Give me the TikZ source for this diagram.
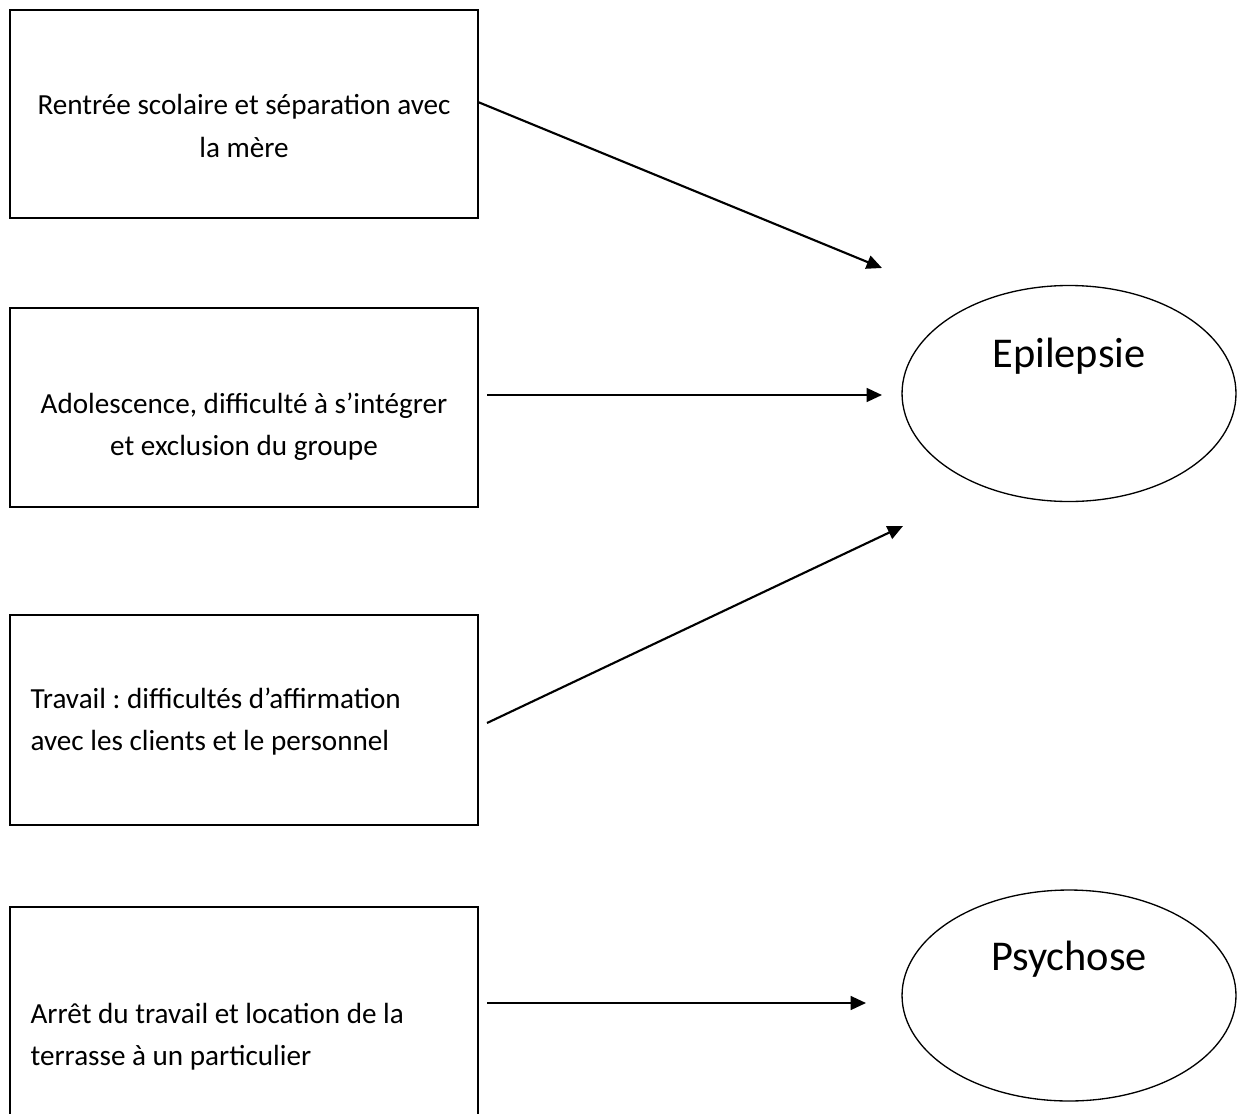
\documentclass[tikz,border=0pt]{standalone}
\usepackage{fontspec}
\setmainfont{Carlito}
\usetikzlibrary{arrows.meta,shapes.geometric,fit}
\frenchspacing
\begin{document}
\begin{tikzpicture}[x=0.3773pt,y=-0.3773pt,
  box/.style={draw, line width=0.7pt, inner sep=0pt},
  oval/.style={draw, ellipse, line width=0.5pt, inner sep=0pt, minimum width=126pt},
  lbl/.style={inner sep=0pt, font=\fontsize{11pt}{15.85pt}\selectfont},
  big/.style={inner sep=0pt, font=\fontsize{16pt}{19pt}\selectfont, anchor=base},
  arr/.style={line width=0.8pt, -{Triangle[length=5.8pt,width=5.2pt]}}]
\useasboundingbox (0,0) rectangle (1239,1113);
\clip (0,0) rectangle (1239,1113);

% boxes
\node[box, fit={(10,10) (478,218)}] (b1) {};
\node[box, fit={(10,308) (478,507)}] (b2) {};
\node[box, fit={(10,615) (478,825)}] (b3) {};
\node[box, fit={(10,907) (478,1130)}] (b4) {};

% box texts
\node[lbl, anchor=base] (t1) at (244,115)
  {\begin{tabular}[t]{@{}c@{}}Rentrée scolaire et séparation avec\\la mère\end{tabular}};
\node[lbl, anchor=base] (t2) at (244,413)
  {\begin{tabular}[t]{@{}c@{}}Adolescence, difficulté à s’intégrer\\et exclusion du groupe\end{tabular}};
\node[lbl, anchor=base west] (t3) at (30,708)
  {\begin{tabular}[t]{@{}l@{}}Travail : difficultés d’affirmation\\avec les clients et le personnel\end{tabular}};
\node[lbl, anchor=base west] (t4) at (30,1023)
  {\begin{tabular}[t]{@{}l@{}}Arrêt du travail et location de la\\terrasse à un particulier\end{tabular}};

% ellipses
\node[oval, minimum height=81.5pt] (e1) at (1069,393.5) {};
\node[oval, minimum height=79.6pt] (e2) at (1069,995.5) {};
\node[big] (l1) at (1069,367) {Epilepsie};
\node[big] (l2) at (1069,970) {Psychose};

% connector ends
\coordinate (s1) at (478,102);
\coordinate (s2) at (487,395);
\coordinate (s3) at (487,723);
\coordinate (s4) at (487,1003);
\coordinate (f1) at (882,268);
\coordinate (f2) at (882,395);
\coordinate (f3) at (903,526);
\coordinate (f4) at (866,1003);

\draw[arr] (s1) -- (f1);
\draw[arr] (s2) -- (f2);
\draw[arr] (s3) -- (f3);
\draw[arr] (s4) -- (f4);
\end{tikzpicture}
\end{document}
